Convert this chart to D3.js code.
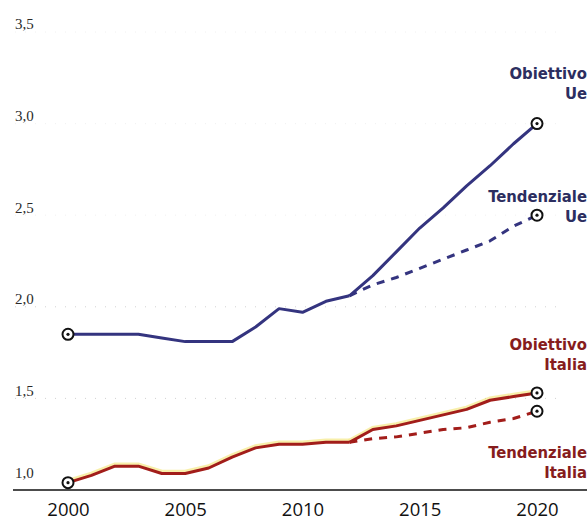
<html>
<head>
<script src="https://d3js.org/d3.v7.min.js"></script>
<style>
	body {
		margin: 0;
		background-color: white;
	}
	.ylab text {
		font-family: "Liberation Serif", serif;
		font-size: 15px;
		fill: #2a2a2a;
	}
	.xlab text {
		font-family: "Open Sans", sans-serif;
		font-size: 18.5px;
		fill: #111;
	}
	.lbl {
		font-family: "DejaVu Sans Condensed", "DejaVu Sans", sans-serif;
		font-weight: bold;
		font-size: 16.5px;
	}
</style>
</head>
<body>
<script>
	var width = 587;
	var height = 521;

	// R&S, % del Pil
	var histYears = [2000, 2001, 2002, 2003, 2004, 2005, 2006, 2007, 2008, 2009, 2010, 2011, 2012];
	var ueHist = [1.85, 1.85, 1.85, 1.85, 1.83, 1.81, 1.81, 1.81, 1.89, 1.99, 1.97, 2.03, 2.06];
	var itHist = [1.04, 1.08, 1.13, 1.13, 1.09, 1.09, 1.12, 1.18, 1.23, 1.25, 1.25, 1.26, 1.26];

	var projYears = [2012, 2013, 2014, 2015, 2016, 2017, 2018, 2019, 2020];
	var ueTarget = [2.06, 2.17, 2.30, 2.43, 2.54, 2.66, 2.77, 2.89, 3.00];
	var ueTrend = [2.06, 2.12, 2.16, 2.21, 2.26, 2.31, 2.36, 2.44, 2.50];
	var itTarget = [1.26, 1.33, 1.35, 1.38, 1.41, 1.44, 1.49, 1.51, 1.53];
	var itTrend = [1.26, 1.28, 1.29, 1.31, 1.33, 1.34, 1.37, 1.39, 1.43];

	var yTicks = [1.0, 1.5, 2.0, 2.5, 3.0, 3.5];
	var xTicks = [2000, 2005, 2010, 2015, 2020];

	var ueColor = "#34347f";
	var itColor = "#a21d1a";

	var svg = d3.select("body")
		.append("svg")
		.attr("width", width)
		.attr("height", height);

	var x = d3.scaleLinear().domain([2000, 2020]).range([68, 537]);
	var y = d3.scaleLinear().domain([1, 3.5]).range([490, 32]);

	// very faint dotted gridlines (barely visible in the print)
	svg.selectAll("line.grid")
		.data(yTicks.slice(1))
		.enter()
		.append("line")
		.attr("class", "grid")
		.attr("x1", 15)
		.attr("x2", 560)
		.attr("y1", function(d) { return y(d); })
		.attr("y2", function(d) { return y(d); })
		.attr("stroke", "#c8c8c8")
		.attr("stroke-width", 1)
		.attr("opacity", function(d) { return d <= 2 ? 0.8 : 0.25; })
		.attr("stroke-dasharray", "1,9");

	// y labels (left aligned, above the gridline)
	var yAxis = svg.append("g")
		.attr("class", "ylab")
		.attr("transform", "translate(15,-8)")
		.call(d3.axisRight(y).tickValues(yTicks).tickSize(0).tickPadding(0)
			.tickFormat(function(d) { return d.toFixed(1).replace(".", ","); }));
	yAxis.select(".domain").remove();
	yAxis.selectAll(".tick").filter(function(d) { return d == 1; })
		.select("text").attr("y", -9);

	// baseline
	svg.append("line")
		.attr("x1", 13).attr("x2", width)
		.attr("y1", y(1)).attr("y2", y(1))
		.attr("stroke", "#111")
		.attr("stroke-width", 1.5);

	var xAxis = svg.append("g")
		.attr("class", "xlab")
		.attr("transform", "translate(0," + y(1) + ")")
		.call(d3.axisBottom(x).tickValues(xTicks).tickSize(0).tickPadding(13)
			.tickFormat(d3.format("d")));
	xAxis.select(".domain").remove();

	var line = d3.line()
		.x(function(d) { return x(d[0]); })
		.y(function(d) { return y(d[1]); });

	function pairs(years, vals) {
		return years.map(function(yr, i) { return [yr, vals[i]]; });
	}

	// Italia: slight yellow halo like the print
	[[histYears, itHist], [projYears, itTarget]].forEach(function(s) {
		svg.append("path")
			.attr("d", line(pairs(s[0], s[1])))
			.attr("fill", "none")
			.attr("stroke", "#f2df55")
			.attr("stroke-width", 4.5)
			.attr("opacity", 0.5)
			.attr("transform", "translate(0,-1.5)");
	});

	function drawLine(years, vals, color, dashed) {
		svg.append("path")
			.attr("d", line(pairs(years, vals)))
			.attr("fill", "none")
			.attr("stroke", color)
			.attr("stroke-width", 3)
			.attr("stroke-linejoin", "round")
			.attr("stroke-dasharray", dashed ? "8,7" : null);
	}

	drawLine(projYears, ueTrend, ueColor, true);
	drawLine(histYears, ueHist, ueColor, false);
	drawLine(projYears, ueTarget, ueColor, false);
	drawLine(projYears, itTrend, itColor, true);
	drawLine(histYears, itHist, itColor, false);
	drawLine(projYears, itTarget, itColor, false);

	// circle markers
	var marks = [
		[2000, ueHist[0]], [2000, itHist[0]],
		[2020, ueTarget[ueTarget.length - 1]], [2020, ueTrend[ueTrend.length - 1]],
		[2020, itTarget[itTarget.length - 1]], [2020, itTrend[itTrend.length - 1]]
	];
	var mk = svg.selectAll("g.mark")
		.data(marks)
		.enter()
		.append("g")
		.attr("transform", function(d) { return "translate(" + x(d[0]) + "," + y(d[1]) + ")"; });
	mk.append("circle").attr("r", 5.5).attr("fill", "white").attr("stroke", "#111").attr("stroke-width", 2);
	mk.append("circle").attr("r", 1.6).attr("fill", "#111");

	// labels
	var labels = [
		{ t: ["Obiettivo", "Ue"], c: "#2c2e60", y: 79 },
		{ t: ["Tendenziale", "Ue"], c: "#2c2e60", y: 202 },
		{ t: ["Obiettivo", "Italia"], c: "#861c1c", y: 350 },
		{ t: ["Tendenziale", "Italia"], c: "#861c1c", y: 458 }
	];
	labels.forEach(function(l) {
		var t = svg.append("text")
			.attr("class", "lbl")
			.attr("text-anchor", "end")
			.attr("fill", l.c);
		l.t.forEach(function(s, i) {
			t.append("tspan")
				.attr("x", 587)
				.attr("y", l.y + i * 20)
				.text(s);
		});
	});
</script>
</body>
</html>
